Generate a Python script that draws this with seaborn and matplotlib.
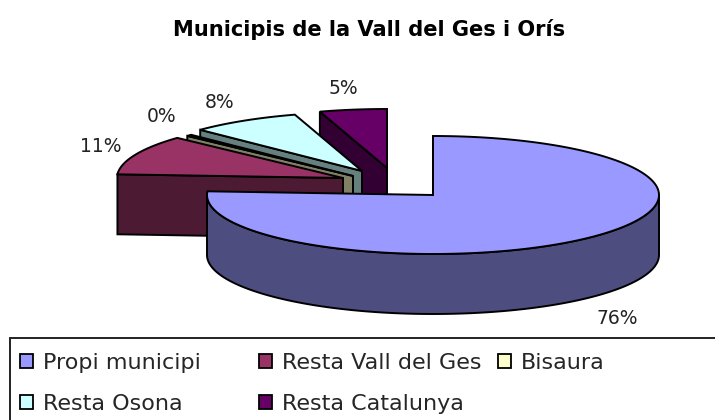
import numpy as np
import matplotlib
matplotlib.use("Agg")
import matplotlib.pyplot as plt
from matplotlib.patches import Rectangle
import seaborn as sns

# Data
categories = ["Propi municipi", "Resta Vall del Ges", "Bisaura", "Resta Osona", "Resta Catalunya"]
values = [76.0, 10.9, 0.4, 7.9, 4.8]
title = "Municipis de la Vall del Ges i Orís"

# Styles
top_colors = ["#9999FF", "#993366", "#FFFFCC", "#CCFFFF", "#660066"]
side_colors = ["#4D4D80", "#4D1A33", "#808066", "#668080", "#330033"]
apex_positions = [(433, 195), (343, 178), (353, 176), (362, 171), (387, 168)]
label_positions = [(617, 319), (101, 146), (162, 116), (220, 102), (343, 89)]
legend_columns = [(20, [0, 3]), (259, [1, 4]), (498, [2])]
RX, RY, DEPTH = 226, 59, 60
FONT = "DejaVu Sans"

sns.set_theme(style="white")
plt.rcParams["font.family"] = [FONT]

fig = plt.figure(figsize=(7.15, 4.2), dpi=100, facecolor="white")
ax = fig.add_axes([0, 0, 1, 1])
ax.set_xlim(0, 715)
ax.set_ylim(420, 0)
ax.axis("off")

# Clockwise angles from 12 o'clock
fractions = np.array(values) / np.sum(values)
ends = np.cumsum(fractions) * 2 * np.pi
starts = ends - fractions * 2 * np.pi


def rim(ap, a):
    return ap[0] + RX * np.sin(a), ap[1] - RY * np.cos(a)


def draw_slice(i):
    ap = apex_positions[i]
    a0, a1 = starts[i], ends[i]
    # Cut face along the starting edge
    sx, sy = rim(ap, a0)
    ax.fill([ap[0], sx, sx, ap[0]], [ap[1], sy, sy + DEPTH, ap[1] + DEPTH],
            fc=side_colors[i], ec="black", lw=1.4, joinstyle="miter")
    # Visible outer wall (front half of the ellipse)
    f0, f1 = max(a0, np.pi / 2), min(a1, 3 * np.pi / 2)
    if f1 > f0:
        t = np.linspace(f0, f1, 120)
        x, y = rim(ap, t)
        ax.fill(np.r_[x, x[::-1]], np.r_[y, y[::-1] + DEPTH],
                fc=side_colors[i], ec="black", lw=1.4, joinstyle="round")
    # Top face
    t = np.linspace(a0, a1, 200)
    x, y = rim(ap, t)
    ax.fill(np.r_[ap[0], x], np.r_[ap[1], y],
            fc=side_colors[i] if fractions[i] < 0.01 else top_colors[i],
            ec="black", lw=1.4, joinstyle="miter")


for i in [4, 3, 2, 1, 0]:
    draw_slice(i)

for v, (x, y) in zip(values, label_positions):
    ax.text(x, y, f"{v:.0f}%", ha="center", va="center", fontsize=13.5, color="#222222")

ax.text(369, 29, title, ha="center", va="center", fontsize=15.1, fontweight="bold", color="black")

# Legend frame runs off the right and bottom edges of the picture
ax.add_patch(Rectangle((10, 338), 720, 100, fc="white", ec="#222222", lw=1.4, zorder=3))

handles = [Rectangle((0, 0), 1, 1, fc=c, ec="black", lw=1.3) for c in top_colors]
for x0, members in legend_columns:
    leg = ax.legend([handles[i] for i in members], [categories[i] for i in members],
                    frameon=False, loc="upper left",
                    bbox_to_anchor=(x0 / 715, 1 - 353 / 420), borderaxespad=0, borderpad=0,
                    fontsize=16, handlelength=0.58, handleheight=0.58, handletextpad=0.45,
                    labelspacing=0.95)
    leg.set_zorder(4)
    ax.add_artist(leg)
    ax.legend_ = None

fig.savefig("out.png", dpi=100)
